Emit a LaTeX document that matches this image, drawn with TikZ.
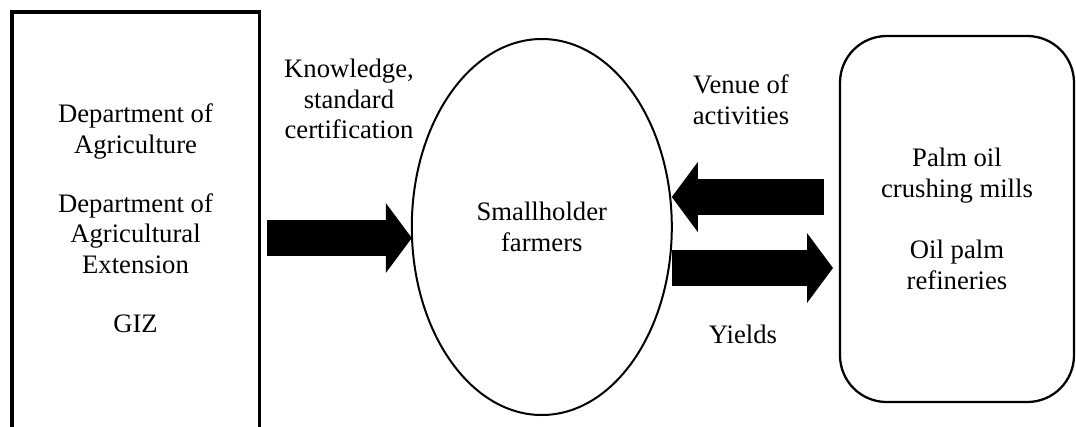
\documentclass[tikz,border=0pt]{standalone}
\usepackage{fontspec}
\setmainfont{Liberation Serif}
\usepackage{tikz}
\usetikzlibrary{shapes,arrows.meta,positioning,calc}

\begin{document}
\begin{tikzpicture}[x=0.75pt,y=-0.75pt,
  every node/.style={font=\fontsize{20}{23}\selectfont, align=center, inner sep=0pt, outer sep=0pt},
  panel/.style={draw, line width=2.4pt, minimum width=185.6pt, minimum height=336pt},
  blob/.style={draw, ellipse, line width=1.5pt, minimum width=195pt, minimum height=282pt},
  softbox/.style={draw, rounded corners=35pt, line width=1.7pt, minimum width=175.5pt, minimum height=274.5pt},
  bigarrow/.style={line width=27pt, -{Triangle[length=19.5pt, width=52.5pt, line width'=0pt]}}]

% Page frame
\clip (0,0) rectangle (1076,426);

% Left panel (runs past the lower edge)
\node[panel] (agency) at (135.75,236) {};
\node[anchor=north] (agencynames) at (135.5,104)
  {Department of\\Agriculture\\[21pt]Department of\\Agricultural\\Extension\\[21pt]GIZ};

% Farmers in the middle
\node[blob] (farmers) at (541.8,227) {Smallholder\\farmers};

% Mills and refineries on the right
\node[softbox] (mills) at (957,219) {Palm oil\\crushing mills\\[23pt]Oil palm\\refineries};

% Block arrows
\draw[bigarrow] ([shift={(7.5,2)}]agency.east) -- ([shift={(0,11)}]farmers.west);
\draw[bigarrow] ([shift={(-16,-22)}]mills.west) -- ([shift={(0,-30)}]farmers.east);
\draw[bigarrow] ([shift={(0,41)}]farmers.east) -- ([shift={(-7,49)}]mills.west);

% Arrow labels
\node[anchor=north] (knowhow) at (349,59) {Knowledge,\\standard\\certification};
\node[anchor=north] (venue) at (741,75) {Venue of\\activities};
\node[anchor=base] (yields) at (743,343) {Yields};

\end{tikzpicture}
\end{document}
